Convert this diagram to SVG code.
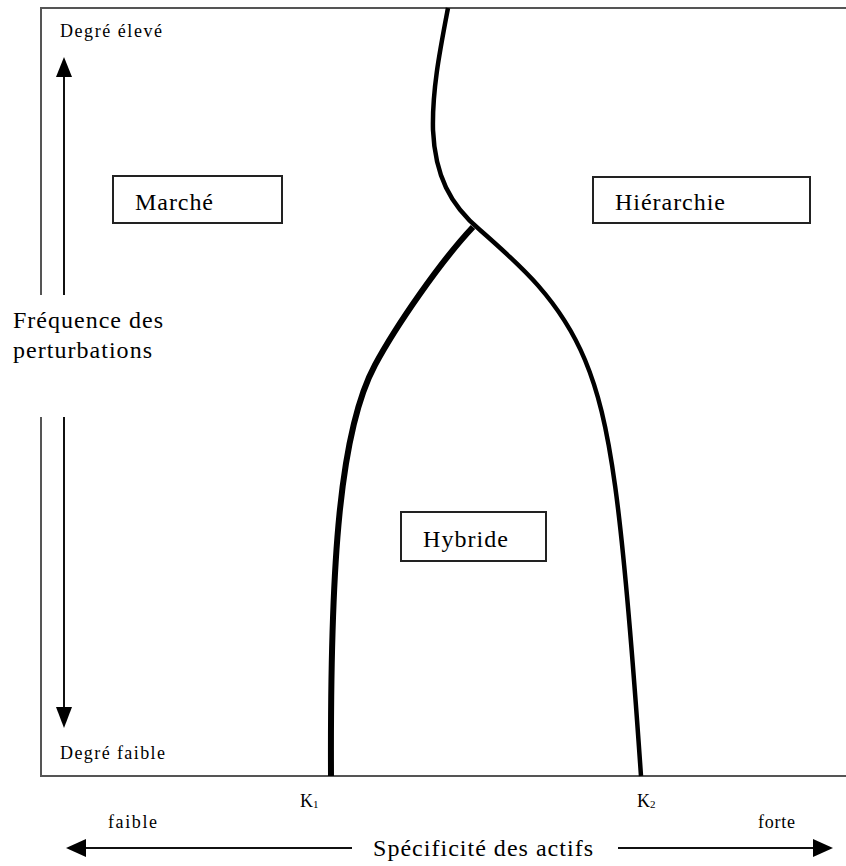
<svg xmlns="http://www.w3.org/2000/svg" width="846" height="866" viewBox="0 0 846 866">
<style>
text{font-family:"Liberation Serif","Times New Roman",serif;fill:#000}
.big{font-size:24px}
.small{font-size:18px}
.frame{fill:none;stroke:#555;stroke-width:2}
.box{fill:#fff;stroke:#222;stroke-width:2}
.axis{fill:none;stroke:#111;stroke-width:2}
.head{fill:#000}
.curve{fill:none;stroke:#000;stroke-linecap:butt}
</style>
<rect width="846" height="866" fill="#fff"/>
<g id="frame">
<path class="frame" d="M41,295 V8 H850 M41,417 V776 H850"/>
</g>
<g id="connectors">
<path class="curve" stroke-width="6" d="M331,776 C330,560 340,430 375,365 C396,326 440,262 473,227"/>
<path class="curve" stroke-width="4.5" d="M448,8 C440,50 432,90 433,130 C435,175 450,205 480,230 C520,265 560,300 585,360 C610,420 622,500 641,776"/>
<path class="axis" d="M64,77 V295 M64,417 V708"/>
<polygon class="head" points="64,57 56,77 72,77"/>
<polygon class="head" points="64,728 56,707 72,707"/>
<path class="axis" d="M86,848 H352 M618,848 H813"/>
<polygon class="head" points="66,848 86,839 86,857"/>
<polygon class="head" points="833,848 813,839 813,857"/>
</g>
<g id="marche">
<rect class="box" x="113" y="176" width="169" height="47"/>
<text class="big" x="135" y="210" textLength="78" lengthAdjust="spacing">Marché</text>
</g>
<g id="hierarchie">
<rect class="box" x="593" y="177" width="217" height="46"/>
<text class="big" x="615" y="210" textLength="110" lengthAdjust="spacing">Hiérarchie</text>
</g>
<g id="hybride">
<rect class="box" x="401" y="512" width="145" height="49"/>
<text class="big" x="423" y="547" textLength="85" lengthAdjust="spacing">Hybride</text>
</g>
<g id="labels">
<text class="small" x="60" y="37" textLength="102" lengthAdjust="spacing">Degré élevé</text>
<text class="small" x="60" y="759" textLength="105" lengthAdjust="spacing">Degré faible</text>
<text class="big" x="13" y="328" textLength="150" lengthAdjust="spacing">Fréquence des</text>
<text class="big" x="13" y="358" textLength="139" lengthAdjust="spacing">perturbations</text>
<text class="small" x="300" y="807">K<tspan font-size="11" dy="1">1</tspan></text>
<text class="small" x="637" y="807">K<tspan font-size="11" dy="1">2</tspan></text>
<text class="small" x="108" y="828" textLength="49" lengthAdjust="spacing">faible</text>
<text class="small" x="758" y="828" textLength="37" lengthAdjust="spacing">forte</text>
<text class="big" x="373" y="856" textLength="220" lengthAdjust="spacing">Spécificité des actifs</text>
</g>
</svg>
